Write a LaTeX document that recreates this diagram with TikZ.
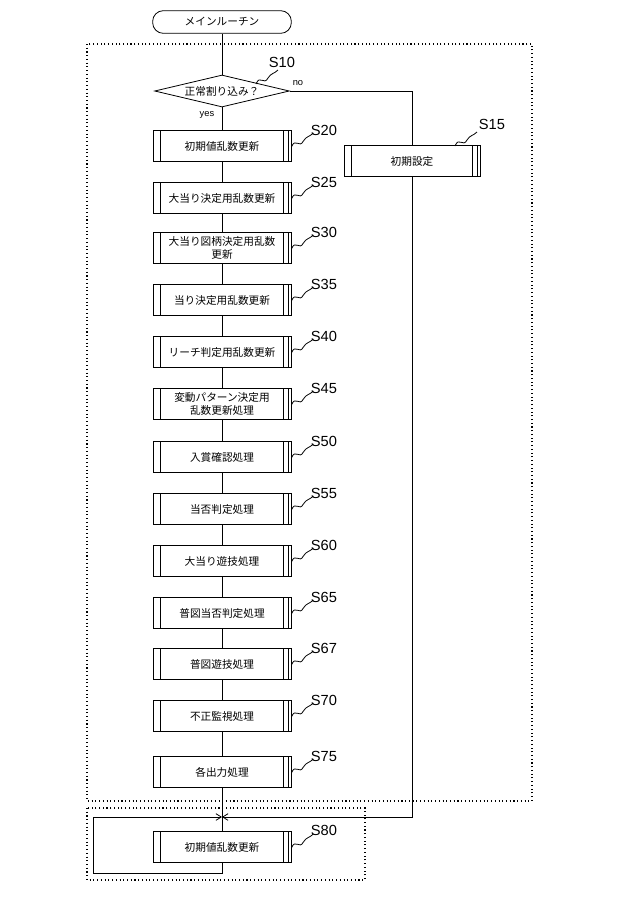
\documentclass[tikz,border=0pt]{standalone}
\usepackage{fontspec}
\setmainfont{Liberation Sans}
\newfontfamily\jp{Noto Sans CJK JP}
\usetikzlibrary{shapes.geometric,arrows.meta,calc}
\begin{document}
\begin{tikzpicture}[x=0.75pt,y=-0.75pt,line width=0.6pt,
  proc/.style={draw,minimum width=103.5pt,minimum height=23.25pt,inner sep=1pt,font=\jp\fontsize{8}{9.5}\selectfont,align=center,
    append after command={\pgfextra{\let\mn\tikzlastnode
      \draw (\mn.north west)++(6pt,0) -- ($(\mn.south west)+(6pt,0)$);
      \draw (\mn.north east)++(-6pt,0) -- ($(\mn.south east)+(-6pt,0)$);
      \draw (\mn.north east)++(-2pt,0) -- ($(\mn.south east)+(-2pt,0)$);}}},
  lbl/.style={font=\fontsize{11}{12}\selectfont},
  dot/.style={dotted,line width=0.8pt},
  squig/.pic={\draw (0,0) .. controls (4,-10) and (8,2) .. (12,-6) .. controls (15,-11) and (18,-10) .. (22,-14);}]
\useasboundingbox (0,0) rectangle (640,901);
\fill[white] (0,0) rectangle (640,901);
\draw[dot] (87,44) rectangle (532,801);
\draw[dot] (87,808) rectangle (365,880);
\node[draw,rounded corners=8pt,minimum width=104pt,minimum height=17pt,font=\jp\fontsize{8}{9}\selectfont] (start) at (222,22) {メインルーチン};
\node[draw,diamond,aspect=4.2,inner sep=0pt,minimum width=101pt,minimum height=24pt,font=\jp\fontsize{8}{9}\selectfont] (d) at (222,91) {正常割り込み？};
\node[font=\fontsize{7}{8}\selectfont] (no) at (298,83) {no};
\node[font=\fontsize{7}{8}\selectfont] (yes) at (207,115) {yes};
\node[lbl] (l10) at (282,62) {S10};
\pic at (256,84) {squig};
\node[proc] (s20) at (222,146) {初期値乱数更新};
\node[proc] (s25) at (222,198) {大当り決定用乱数更新};
\node[proc] (s30) at (222,248) {大当り図柄決定用乱数\\更新};
\node[proc] (s35) at (222,300) {当り決定用乱数更新};
\node[proc] (s40) at (222,352) {リーチ判定用乱数更新};
\node[proc] (s45) at (222,404) {変動パターン決定用\\乱数更新処理};
\node[proc] (s50) at (222,457) {入賞確認処理};
\node[proc] (s55) at (222,509) {当否判定処理};
\node[proc] (s60) at (222,561) {大当り遊技処理};
\node[proc] (s65) at (222,613) {普図当否判定処理};
\node[proc] (s67) at (222,664) {普図遊技処理};
\node[proc] (s70) at (222,716) {不正監視処理};
\node[proc] (s75) at (222,772) {各出力処理};
\node[proc] (s80) at (222,847) {初期値乱数更新};
\node[proc,minimum width=102pt] (s15) at (412,161) {初期設定};
\foreach \n/\t/\y in {s20/S20/130,s25/S25/182,s30/S30/232,s35/S35/284,s40/S40/336,s45/S45/388,s50/S50/441,s55/S55/493,s60/S60/545,s65/S65/597,s67/S67/648,s70/S70/700,s75/S75/756,s80/S80/830}{
  \node[lbl] at (324,\y) {\t};
  \pic at ($(\n.east)+(0,1)$) {squig};}
\node[lbl] (l15) at (492,124) {S15};
\pic at (455,146) {squig};
\coordinate (m) at (222,817);
\draw (start) -- (d) -- (s20) -- (s25) -- (s30) -- (s35) -- (s40) -- (s45) -- (s50) -- (s55) -- (s60) -- (s65) -- (s67) -- (s70) -- (s75) -- (s80);
\draw (d.east) -| (s15.north);
\draw[-{Straight Barb[length=4pt,width=5pt]}] (s15.south) |- (m);
\draw[-{Straight Barb[length=4pt,width=5pt]}] (s80.south) -- ++(0,10) -| (93,817) -- (m);
\end{tikzpicture}
\end{document}
